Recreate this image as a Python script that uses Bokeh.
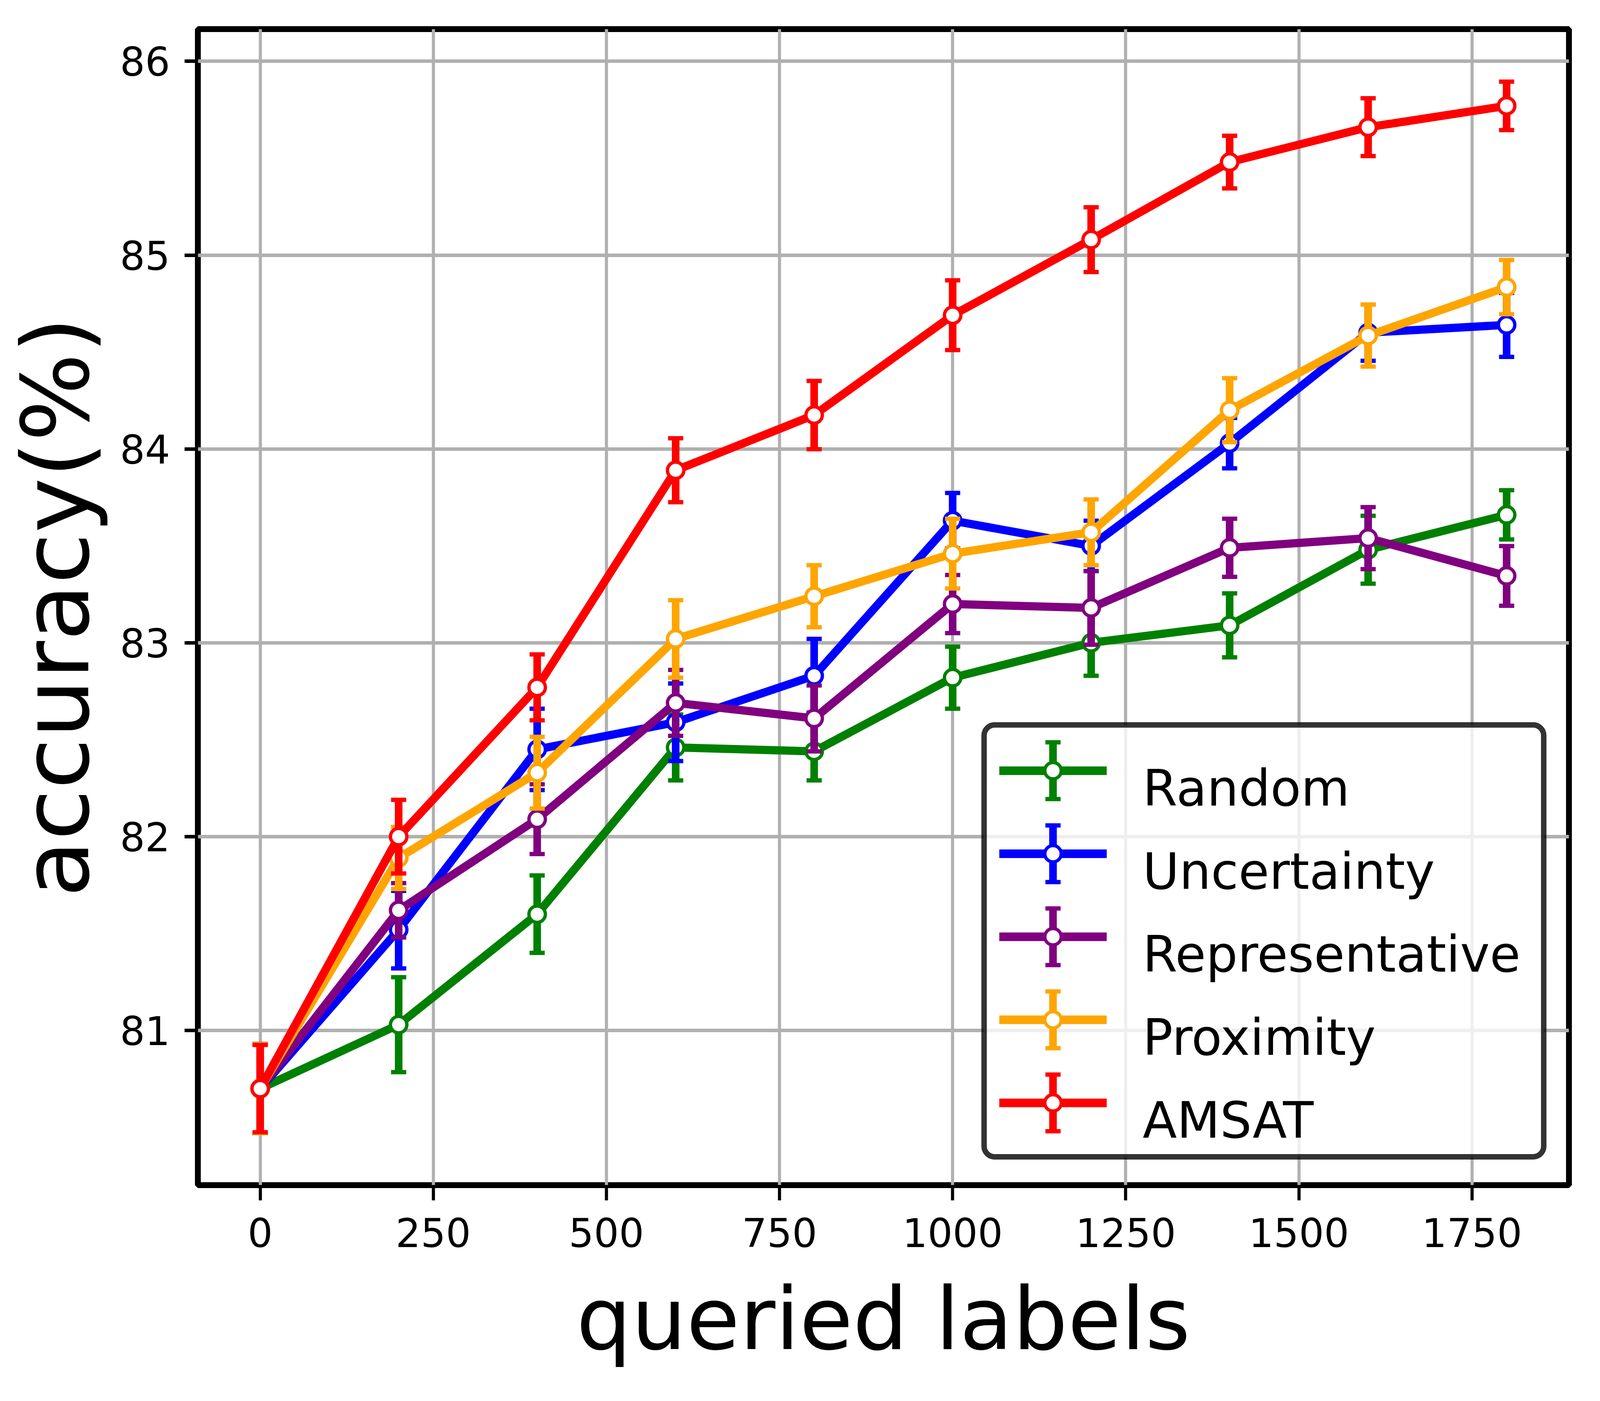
from bokeh.plotting import figure
from bokeh.models import Range1d, FixedTicker, BoxAnnotation, ColumnDataSource
from bokeh.core.properties import value
from bokeh.embed import file_html
from bokeh.resources import INLINE

# ---------------- data ----------------
queried = [0, 200, 400, 600, 800, 1000, 1200, 1400, 1600, 1800]

series_names = ["Random", "Uncertainty", "Representative", "Proximity", "AMSAT"]
series_colors = ["#008000", "#0000ff", "#800080", "#ffa500", "#ff0000"]

random_acc = [80.70, 81.03, 81.60, 82.46, 82.44, 82.82, 83.00, 83.09, 83.48, 83.66]
random_err = [0.23, 0.245, 0.20, 0.17, 0.15, 0.16, 0.17, 0.165, 0.175, 0.127]

uncertainty_acc = [80.70, 81.52, 82.45, 82.59, 82.83, 83.63, 83.50, 84.03, 84.60, 84.64]
uncertainty_err = [0.23, 0.20, 0.21, 0.20, 0.19, 0.143, 0.13, 0.13, 0.145, 0.165]

representative_acc = [80.70, 81.62, 82.09, 82.69, 82.61, 83.20, 83.18, 83.49, 83.54, 83.345]
representative_err = [0.23, 0.14, 0.18, 0.17, 0.17, 0.15, 0.19, 0.15, 0.16, 0.154]

proximity_acc = [80.70, 81.89, 82.33, 83.02, 83.24, 83.46, 83.57, 84.20, 84.585, 84.835]
proximity_err = [0.23, 0.16, 0.185, 0.20, 0.16, 0.18, 0.17, 0.165, 0.16, 0.14]

amsat_acc = [80.70, 82.00, 82.77, 83.89, 84.175, 84.69, 85.08, 85.48, 85.66, 85.77]
amsat_err = [0.225, 0.19, 0.17, 0.165, 0.176, 0.18, 0.167, 0.136, 0.149, 0.125]

x_ticks = [0, 250, 500, 750, 1000, 1250, 1500, 1750]
y_ticks = [81, 82, 83, 84, 85, 86]

x_label = "queried labels"
y_label = "accuracy(%)"

all_acc = [random_acc, uncertainty_acc, representative_acc, proximity_acc, amsat_acc]
all_err = [random_err, uncertainty_err, representative_err, proximity_err, amsat_err]

# ---------------- style / layout ----------------
# the browser lays the page out 4096 CSS px wide; horizontal sizes are scaled by SX
SX = 4096 / 4632.0
FONT = "DejaVu Sans"
W, H = 4076, 3566
LINE_W = 21
ELINE_W = 22 * SX
CAP_LEN = 44 * SX
CAP_W = 11
MARK_SIZE = 42
MARK_LW = 8.5

p = figure(
    width=W, height=H,
    x_range=Range1d(-90, 1890), y_range=Range1d(80.202, 86.166),
    output_backend="svg", toolbar_location=None,
    min_border_left=506, min_border_right=60,
    min_border_top=74, min_border_bottom=533,
    background_fill_color="white", border_fill_color="white",
)
p.outline_line_color = "black"
p.outline_line_width = 15
p.outline_line_alpha = 1.0

# reference-pixel coordinate system mapped onto the frame (used for the legend layout)
p.extra_x_ranges = {"page_x": Range1d(581, 4550)}
p.extra_y_ranges = {"page_y": Range1d(3040.5, 82.5)}

for ax in (p.xaxis[0], p.yaxis[0]):
    ax.axis_line_color = None
    ax.major_tick_in = 0
    ax.major_tick_line_color = "black"
    ax.minor_tick_out = 0
    ax.minor_tick_in = 0
    ax.major_label_text_font = FONT
    ax.major_label_text_font_size = "101px"
    ax.major_label_text_color = "black"
    ax.axis_label_text_font = FONT
    ax.axis_label_text_font_style = "normal"
    ax.axis_label_text_color = "black"

p.xaxis.axis_label_text_font_size = "222px"
p.yaxis.axis_label_text_font_size = "238px"

p.xaxis.major_tick_out = 39
p.xaxis.major_tick_line_width = 8
p.yaxis.major_tick_out = 34
p.yaxis.major_tick_line_width = 9

p.xaxis.ticker = FixedTicker(ticks=x_ticks)
p.yaxis.ticker = FixedTicker(ticks=y_ticks)
p.xaxis.axis_label = x_label
p.yaxis.axis_label = y_label
p.xaxis.major_label_standoff = 44
p.yaxis.major_label_standoff = 37
p.xaxis.axis_label_standoff = 52
p.yaxis.axis_label_standoff = 22

p.xgrid.ticker = FixedTicker(ticks=x_ticks)
p.ygrid.ticker = FixedTicker(ticks=y_ticks)
p.xgrid.grid_line_color = "#b0b0b0"
p.xgrid.grid_line_width = 8
p.ygrid.grid_line_color = "#b0b0b0"
p.ygrid.grid_line_width = 9

# ---------------- legend frame (drawn above grid, below glyphs) ----------------
LEG_LEFT, LEG_RIGHT, LEG_TOP, LEG_BOTTOM = 2857, 4477, 1863, 2968
LEG_ROW0, LEG_PITCH = 1980, 212.5
LEG_LINE_X0, LEG_LINE_X1 = 2901, 3212
LEG_MARK_X = 3056.5
LEG_BAR_HALF = 72.5
LEG_TEXT_X, LEG_TEXT_DY = 3316, 45

legend_box = BoxAnnotation(
    left=LEG_LEFT, right=LEG_RIGHT, top=LEG_TOP, bottom=LEG_BOTTOM,
    x_range_name="page_x", y_range_name="page_y",
    fill_color="white", fill_alpha=0.8,
    line_color="black", line_alpha=0.8, line_width=14,
    border_radius=27, level="underlay", editable=False,
)
p.add_layout(legend_box)

# ---------------- data series ----------------
for name, color, acc, err in zip(series_names, series_colors, all_acc, all_err):
    src = ColumnDataSource(dict(
        x=queried, y=acc,
        lo=[a - e for a, e in zip(acc, err)],
        hi=[a + e for a, e in zip(acc, err)],
    ))
    p.segment(x0="x", y0="lo", x1="x", y1="hi", source=src,
              line_color=color, line_width=ELINE_W, line_cap="butt")
    p.scatter(x="x", y="lo", source=src, marker="dash", size=CAP_LEN,
              line_color=color, line_width=CAP_W)
    p.scatter(x="x", y="hi", source=src, marker="dash", size=CAP_LEN,
              line_color=color, line_width=CAP_W)
    p.line(x="x", y="y", source=src, line_color=color, line_width=LINE_W,
           line_join="round")
    p.scatter(x="x", y="y", source=src, marker="circle", size=MARK_SIZE,
              fill_color="white", line_color=color, line_width=MARK_LW)

# ---------------- legend entries ----------------
for i, (name, color) in enumerate(zip(series_names, series_colors)):
    ry = LEG_ROW0 + i * LEG_PITCH
    kw = dict(x_range_name="page_x", y_range_name="page_y")
    p.line(x=[LEG_LINE_X0, LEG_LINE_X1], y=[ry, ry], line_color=color,
           line_width=22, **kw)
    p.segment(x0=[LEG_MARK_X], y0=[ry - LEG_BAR_HALF], x1=[LEG_MARK_X],
              y1=[ry + LEG_BAR_HALF], line_color=color, line_width=ELINE_W,
              line_cap="butt", **kw)
    p.scatter(x=[LEG_MARK_X, LEG_MARK_X], y=[ry - LEG_BAR_HALF, ry + LEG_BAR_HALF],
              marker="dash", size=CAP_LEN, line_color=color, line_width=CAP_W, **kw)
    p.scatter(x=[LEG_MARK_X], y=[ry], marker="circle", size=MARK_SIZE,
              fill_color="white", line_color=color, line_width=MARK_LW, **kw)
    p.text(x=[LEG_TEXT_X], y=[ry + LEG_TEXT_DY], text=[name],
           text_font=value(FONT), text_font_size=value("128px"),
           text_color="black", text_align="left", text_baseline="alphabetic", **kw)

with open("out.html", "w") as f:
    f.write(file_html(p, INLINE))
